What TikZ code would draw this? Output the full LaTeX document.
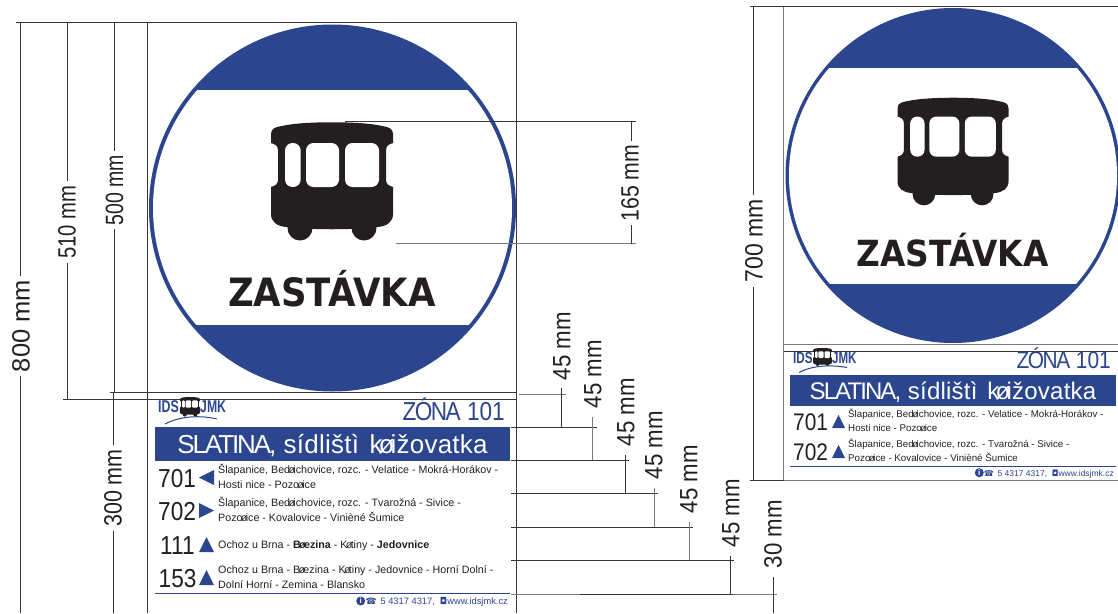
\documentclass[tikz,border=0pt]{standalone}
\usepackage{fontspec}
\usepackage{graphicx}
\setmainfont{Liberation Sans}
\newfontfamily\signfont{DejaVu Sans}
\definecolor{signblue}{HTML}{2B458F}
\definecolor{signblack}{HTML}{231F20}
\newcommand{\ro}{\makebox[.3em][c]{ø}}
\newcommand{\stoptitle}{{\addfontfeature{LetterSpace=-8}SLATINA,} {\addfontfeature{LetterSpace=1}sídlištì\kern.12em{} k\ro{}ižovatka}}
\newcommand{\zonetitle}{\scalebox{.87}[1]{{\addfontfeature{LetterSpace=-7}ZÓNA} 101}}
\newcommand{\routeone}{Šlapanice, Bed\ro{}ichovice, rozc. - Velatice - Mokrá-Horákov -\\Hosti nice - Pozo\ro{}ice}
\newcommand{\routetwo}{Šlapanice, Bed\ro{}ichovice, rozc. - Tvarožná - Sivice -\\Pozo\ro{}ice - Kovalovice - Vinièné Šumice}
\newcommand{\contactline}{{\signfont\scalebox{.95}{☎}}\kern.42em 5 4317 4317,\kern.55em{\signfont ◘}www.idsjmk.cz}
\newcommand{\linenum}[1]{\scalebox{.87}[1]{#1}}
\tikzset{
    dim-line/.style = {draw=signblack!90, line width=0.8pt},
    thin-line/.style = {draw=signblack!60, line width=0.7pt},
    dim-label/.style = {rotate=90, text=signblack, font=\fontsize{25}{25}\selectfont, inner sep=0pt},
    dim-gap/.style = {dim-label, fill=white, inner xsep=4pt, inner ysep=2pt},
    stop-bar/.style = {fill=signblue},
    stop-title/.style = {text=white, anchor=base, inner sep=0pt},
    zone-title/.style = {text=signblue, anchor=base east, inner sep=0pt},
    line-number/.style = {text=signblack, anchor=base west, inner sep=0pt},
    route-text/.style = {text=signblack, align=left, anchor=base west, inner sep=0pt},
    contact-text/.style = {text=signblue, anchor=base east, inner sep=0pt},
    info-dot/.style = {circle, fill=signblue, text=white, inner sep=0pt, minimum size=9pt, font=\fontsize{8}{8}\bfseries\selectfont},
    logo-text/.style = {text=signblue, inner sep=0pt, anchor=base west, font=\fontsize{17}{17}\bfseries\selectfont},
    sign-word/.style = {text=signblack, inner sep=0pt, anchor=base},
    pics/bus-icon/.style = {code={
        \fill[signblack] (-61,12) .. controls (-61,6) and (-56,5) .. (-50,4) .. controls (-30,-1) and (30,-1) .. (50,4) .. controls (56,5) and (61,6) .. (61,12) -- (61,21) .. controls (57,22) and (54,24) .. (54,28) -- (54,58) .. controls (54,62) and (57,64) .. (61,65) -- (61,92) .. controls (61,100) and (55,104) .. (46,105) .. controls (20,108) and (-20,108) .. (-46,105) .. controls (-55,104) and (-61,100) .. (-61,92) -- (-61,65) .. controls (-57,64) and (-54,62) .. (-54,58) -- (-54,28) .. controls (-54,24) and (-57,22) .. (-61,21) -- cycle;
        \fill[signblack] (-32,106) circle (12.5);
        \fill[signblack] (32,106) circle (12.5);
        \fill[white, rounded corners=#1pt] (-47,21) rectangle (-31.3,65);
        \fill[white, rounded corners=#1pt] (-26,21) rectangle (7,65);
        \fill[white, rounded corners=#1pt] (13,21) rectangle (47,65);
    }},
}
\begin{document}
\begin{tikzpicture}[x=1pt, y=-1pt]
\useasboundingbox (0,0) rectangle (1118,613);

\fill[signblue] (332.5,208) circle (183.5);
\begin{scope}
    \clip (332.5,208) circle (179.5);
    \fill[white] (140,90) rectangle (525,325);
\end{scope}
\pic at (332,122) {bus-icon=7.5};
\node[sign-word] (word-left) at (332,306.7) {\scalebox{.91}[1]{\signfont\fontsize{39}{39}\bfseries\selectfont ZASTÁVKA}};

\begin{scope}
    \clip (0,0) rectangle (1118,613);
    \fill[signblue] (953,175.5) circle (167.5);
    \clip (953,175.5) circle (164);
    \fill[white] (780,68) rectangle (1125,284);
\end{scope}
\pic[scale=.91] at (953,97.5) {bus-icon=6.8};
\node[sign-word] (word-right) at (952.5,266) {\scalebox{.91}[1]{\signfont\fontsize{36}{36}\bfseries\selectfont ZASTÁVKA}};

\draw[dim-line] (16,22) -- (517,22);
\draw[dim-line] (20,22) -- (20,613);
\draw[dim-line] (67,22) -- (67,399.3);
\draw[dim-line] (114.8,22) -- (114.8,392);
\draw[dim-line] (113,392) -- (113,613);
\draw[dim-line] (147.5,22) -- (147.5,613);
\draw[dim-line] (516.8,22) -- (516.8,613);
\draw[dim-line] (110,392) -- (517,392);
\draw[dim-line] (63,399.3) -- (517,399.3);

\draw[dim-line] (345,121.7) -- (636,121.7);
\draw[thin-line] (396,243.7) -- (636,243.7);
\draw[dim-line] (631.5,121.7) -- (631.5,243.7);

\draw[thin-line] (519,394) -- (566,394);
\draw[dim-line] (561.7,388) -- (561.7,427.3);
\draw[dim-line] (511,427.3) -- (597,427.3);
\draw[thin-line] (592.7,416.7) -- (592.7,460.7);
\draw[dim-line] (511,460.7) -- (629,460.7);
\draw[dim-line] (625,455) -- (625,493.7);
\draw[dim-line] (511,493.7) -- (657.7,493.7);
\draw[thin-line] (654,488) -- (654,527);
\draw[dim-line] (511,527) -- (692.7,527);
\draw[thin-line] (689,521.7) -- (689,560.3);
\draw[dim-line] (511,560.3) -- (733.7,560.3);
\draw[dim-line] (730.5,556) -- (730.5,594);
\draw[thin-line] (511,594) -- (776.7,594);
\draw[dim-line] (580,594) -- (733,594);
\draw[dim-line] (773,576.7) -- (773,613);

\draw[dim-line] (750,6.5) -- (1118,6.5);
\draw[dim-line] (753,6.5) -- (753,481);
\draw[thin-line] (783.5,6.5) -- (783.5,481);
\draw[thin-line] (783.5,344.3) -- (1118,344.3);
\draw[dim-line] (783.5,351.3) -- (1118,351.3);
\draw[dim-line] (750,480.5) -- (846,480.5);
\draw[thin-line] (783.5,480.5) -- (1118,480.5);

\node[dim-gap] (dim-800) at (21,326) {\scalebox{1.02}[1]{800 mm}};
\node[dim-gap] (dim-510) at (67,222) {\scalebox{.81}[1]{510 mm}};
\node[dim-gap] (dim-500) at (114.5,190) {\scalebox{.78}[1]{500 mm}};
\node[dim-gap] (dim-300) at (113,488) {\scalebox{.86}[1]{300 mm}};
\node[dim-gap] (dim-165) at (630,183) {\scalebox{.85}[1]{165 mm}};
\node[dim-gap] (dim-700) at (754,241) {\scalebox{.92}[1]{700 mm}};
\node[dim-label] (dim-45a) at (562,346) {\scalebox{.89}[1]{45 mm}};
\node[dim-label] (dim-45b) at (593,374) {\scalebox{.89}[1]{45 mm}};
\node[dim-label] (dim-45c) at (626,412) {\scalebox{.89}[1]{45 mm}};
\node[dim-label] (dim-45d) at (654,445) {\scalebox{.89}[1]{45 mm}};
\node[dim-label] (dim-45e) at (689,479) {\scalebox{.89}[1]{45 mm}};
\node[dim-label] (dim-45f) at (731,513) {\scalebox{.89}[1]{45 mm}};
\node[dim-label] (dim-30) at (773,534) {\scalebox{.89}[1]{30 mm}};

\node[logo-text] (logo-ids-left) at (158,412) {\scalebox{.73}[1]{IDS}};
\node[logo-text] (logo-jmk-left) at (200,412) {\scalebox{.72}[1]{JMK}};
\pic[scale=.165] at (190,397) {bus-icon=1};
\draw[signblue, line width=1pt] (165,424) .. controls (180,416) and (200,415) .. (217,419);
\node[zone-title, font=\fontsize{26}{26}\selectfont] (zone-left) at (505,420.5) {\zonetitle};
\fill[stop-bar] (155,427) rectangle (510,461);
\node[stop-title, font=\fontsize{26}{26}\selectfont] (title-left) at (332.5,453) {\stoptitle};

\node[line-number, font=\fontsize{26}{26}\selectfont] (num-701) at (158,487) {\linenum{701}};
\node[line-number, font=\fontsize{26}{26}\selectfont] (num-702) at (158,520) {\linenum{702}};
\node[line-number, font=\fontsize{26}{26}\selectfont] (num-111) at (160,554) {\linenum{111}};
\node[line-number, font=\fontsize{26}{26}\selectfont] (num-153) at (158.5,587) {\linenum{153}};
\fill[signblue] (199,477.5) -- (214,470) -- (214,485) -- cycle;
\fill[signblue] (214,510.5) -- (199,503) -- (199,518) -- cycle;
\fill[signblue] (199,552) -- (206.5,537) -- (214,552) -- cycle;
\fill[signblue] (199,585) -- (206.5,570) -- (214,585) -- cycle;
\node[route-text, font=\fontsize{10.7}{15}\selectfont] (route-701) at (218,488) {\routeone};
\node[route-text, font=\fontsize{10.7}{15}\selectfont] (route-702) at (218,521) {\routetwo};
\node[route-text, font=\fontsize{10.7}{15}\selectfont] (route-111) at (218,548) {Ochoz u Brna - \textbf{B\ro{}ezina} - K\ro{}tiny - \textbf{Jedovnice}};
\node[route-text, font=\fontsize{10.7}{15}\selectfont] (route-153) at (218,588) {Ochoz u Brna - B\ro{}ezina - K\ro{}tiny - Jedovnice - Horní Dolní -\\Dolní Horní - Zemina - Blansko};
\draw[signblue, line width=0.8pt] (155,593.7) -- (510,593.7);
\node[info-dot] (info-left) at (360.7,601) {i};
\node[contact-text, font=\fontsize{9.3}{9.3}\selectfont] (contact-left) at (508,604.5) {\contactline};

\node[logo-text, font=\fontsize{16}{16}\bfseries\selectfont] (logo-ids-right) at (793,363) {\scalebox{.73}[1]{IDS}};
\node[logo-text, font=\fontsize{16}{16}\bfseries\selectfont] (logo-jmk-right) at (832,363) {\scalebox{.72}[1]{JMK}};
\pic[scale=.155] at (822.5,348) {bus-icon=1};
\draw[signblue, line width=1pt] (799,372.5) .. controls (812,365.5) and (830,364.5) .. (847,367.5);
\node[zone-title, font=\fontsize{24}{24}\selectfont] (zone-right) at (1111,368) {\zonetitle};
\fill[stop-bar] (790,375) rectangle (1116,406);
\node[stop-title, font=\fontsize{24}{24}\selectfont] (title-right) at (953,399) {\stoptitle};

\node[line-number, font=\fontsize{24}{24}\selectfont] (num-701-right) at (793,430) {\linenum{701}};
\node[line-number, font=\fontsize{24}{24}\selectfont] (num-702-right) at (793,460.7) {\linenum{702}};
\fill[signblue] (832,428) -- (838.5,415) -- (845,428) -- cycle;
\fill[signblue] (832,458) -- (838.5,445) -- (845,458) -- cycle;
\node[route-text, font=\fontsize{9.75}{14}\selectfont] (route-701-right) at (848,431) {\routeone};
\node[route-text, font=\fontsize{9.75}{14}\selectfont] (route-702-right) at (848,461) {\routetwo};
\draw[signblue, line width=0.8pt] (790,466) -- (1116,466);
\node[info-dot] (info-right) at (979.3,472.7) {i};
\node[contact-text, font=\fontsize{8.5}{8.5}\selectfont] (contact-right) at (1114,476) {\contactline};
\end{tikzpicture}
\end{document}
